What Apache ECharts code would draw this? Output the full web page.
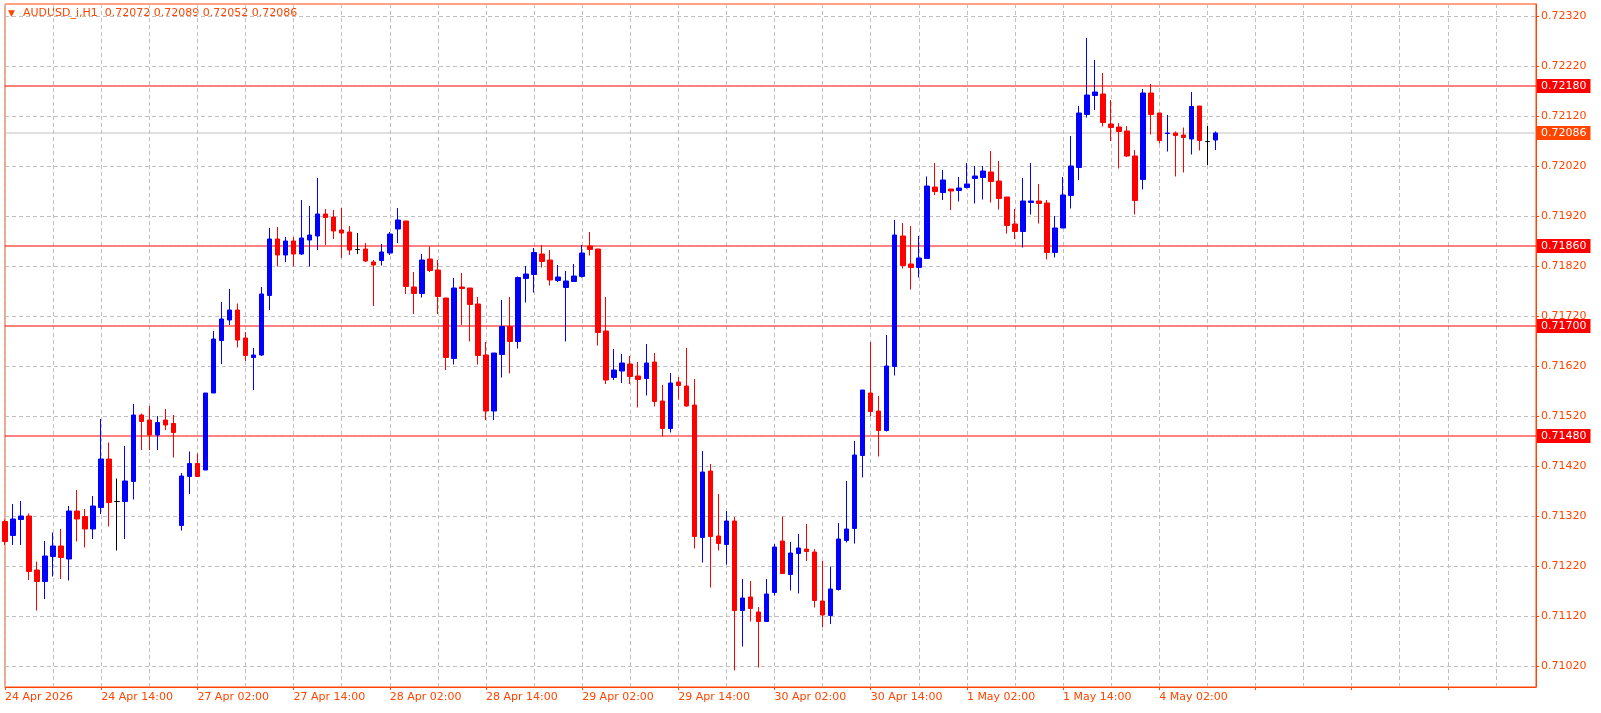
<!DOCTYPE html>
<html><head><meta charset="utf-8">
<script src="https://cdn.jsdelivr.net/npm/echarts@6/dist/echarts.min.js"></script>
<style>html,body{margin:0;padding:0;background:#fff;}#c{width:1601px;height:713px;}</style>
</head><body><div id="c"></div>
<script>
const openP = [.71309,.71281,.71313,.71320,.71212,.71189,.71239,.71260,.71234,.71330,.71319,.71294,.71337,.71434,.71349,.71349,.71389,.71522,.71512,.71482,.71512,.71505,.71301,.71399,.71425,.71412,.71566,.71671,.71712,.71732,.71676,.71637,.71642,.71761,.71874,.71842,.71870,.71844,.71872,.71880,.71924,.71918,.71892,.71888,.71853,.71854,.71828,.71831,.71846,.71894,.71910,.71778,.71765,.71834,.71812,.71756,.71635,.71778,.71776,.71744,.71642,.71530,.71643,.71699,.71669,.71795,.71803,.71844,.71832,.71791,.71777,.71789,.71799,.71860,.71854,.71690,.71597,.71610,.71624,.71600,.71595,.71628,.71550,.71495,.71588,.71580,.71542,.71277,.71410,.71280,.71263,.71310,.71131,.71158,.71128,.71109,.71167,.71270,.71203,.71245,.71254,.71248,.71150,.71121,.71173,.71271,.71295,.71441,.71566,.71530,.71491,.71619,.71880,.71824,.71817,.71835,.71978,.71967,.71974,.71971,.71977,.71995,.71997,.72008,.71990,.71958,.71904,.71889,.71947,.71950,.71946,.71847,.71896,.71961,.72017,.72123,.72161,.72164,.72104,.72098,.72090,.72040,.71993,.72166,.72126,.72085,.72086,.72082,.72074,.72140,.72069,.72072];
const closeP = [.71269,.71314,.71320,.71209,.71189,.71240,.71260,.71237,.71330,.71314,.71294,.71340,.71434,.71347,.71349,.71390,.71522,.71509,.71482,.71507,.71502,.71487,.71400,.71425,.71399,.71566,.71674,.71714,.71732,.71672,.71641,.71642,.71764,.71874,.71842,.71870,.71844,.71876,.71882,.71924,.71917,.71890,.71886,.71852,.71853,.71830,.71822,.71848,.71884,.71912,.71779,.71765,.71832,.71811,.71759,.71637,.71776,.71775,.71743,.71641,.71530,.71646,.71699,.71669,.71797,.71804,.71847,.71829,.71792,.71798,.71790,.71800,.71846,.71853,.71687,.71592,.71612,.71626,.71599,.71593,.71626,.71549,.71495,.71586,.71581,.71540,.71279,.71408,.71279,.71265,.71310,.71131,.71156,.71135,.71109,.71164,.71258,.71205,.71246,.71256,.71249,.71151,.71122,.71174,.71274,.71294,.71442,.71572,.71529,.71491,.71620,.71882,.71821,.71817,.71836,.71980,.71969,.71992,.71970,.71976,.71984,.72000,.72010,.71989,.71955,.71901,.71889,.71950,.71950,.71945,.71847,.71896,.71962,.72020,.72126,.72162,.72168,.72107,.72097,.72089,.72040,.71951,.72166,.72123,.72071,.72086,.72081,.72077,.72139,.72071,.72069,.72086];
const lowP = [.71262,.71262,.71262,.71192,.71131,.71154,.71199,.71194,.71191,.71269,.71257,.71274,.71324,.71299,.71251,.71274,.71353,.71452,.71452,.71452,.71492,.71437,.71291,.71364,.71399,.71412,.71566,.71624,.71702,.71657,.71630,.71572,.71640,.71732,.71819,.71828,.71819,.71842,.71819,.71852,.71862,.71874,.71836,.71842,.71844,.71828,.71740,.71821,.71842,.71866,.71764,.71724,.71757,.71808,.71724,.71612,.71623,.71702,.71669,.71623,.71512,.71512,.71597,.71605,.71655,.71747,.71767,.71817,.71781,.71788,.71669,.71789,.71797,.71841,.71661,.71584,.71592,.71586,.71584,.71537,.71561,.71539,.71479,.71487,.71553,.71539,.71255,.71227,.71177,.71251,.71223,.71011,.71059,.71109,.71017,.71109,.71161,.71205,.71171,.71165,.71230,.71137,.71098,.71104,.71171,.71267,.71265,.71397,.71519,.71439,.71489,.71601,.71815,.71773,.71797,.71835,.71962,.71952,.71932,.71949,.71975,.71945,.71953,.71947,.71933,.71885,.71874,.71857,.71923,.71905,.71833,.71837,.71896,.71935,.71992,.72117,.72132,.72099,.72070,.72015,.72038,.71923,.71973,.72083,.72065,.72049,.71999,.72007,.72043,.72051,.72022,.72052];
const highP = [.71313,.71344,.71350,.71325,.71229,.71270,.71287,.71294,.71340,.71372,.71334,.71360,.71514,.71467,.71395,.71460,.71544,.71525,.71540,.71520,.71534,.71522,.71406,.71449,.71445,.71566,.71690,.71748,.71774,.71745,.71688,.71656,.71778,.71896,.71898,.71878,.71878,.71952,.71940,.71996,.71934,.71932,.71936,.71900,.71886,.71866,.71832,.71864,.71888,.71936,.71910,.71808,.71844,.71859,.71832,.71756,.71796,.71806,.71776,.71758,.71668,.71646,.71752,.71758,.71799,.71820,.71856,.71862,.71852,.71822,.71810,.71824,.71862,.71888,.71854,.71758,.71654,.71644,.71640,.71628,.71664,.71646,.71582,.71606,.71598,.71656,.71594,.71450,.71424,.71364,.71330,.71318,.71194,.71190,.71138,.71194,.71264,.71319,.71268,.71284,.71304,.71254,.71230,.71219,.71306,.71390,.71470,.71572,.71668,.71560,.71682,.71912,.71906,.71900,.71880,.71999,.72026,.72012,.71974,.71998,.72026,.72020,.72020,.72050,.72030,.71958,.71934,.71996,.72026,.71984,.71952,.71920,.71998,.72080,.72140,.72276,.72232,.72206,.72152,.72106,.72100,.72052,.72174,.72184,.72126,.72122,.72089,.72097,.72168,.72140,.72100,.72089];
const timeLabels = ['24 Apr 2026','24 Apr 14:00','27 Apr 02:00','27 Apr 14:00','28 Apr 02:00','28 Apr 14:00','29 Apr 02:00','29 Apr 14:00','30 Apr 02:00','30 Apr 14:00','1 May 02:00','1 May 14:00','4 May 02:00'];
const priceTicks = [0.71020,0.71120,0.71220,0.71320,0.71420,0.71520,0.71620,0.71720,0.71820,0.71920,0.72020,0.72120,0.72220,0.72320];
const levels = [0.72180,0.71860,0.71700,0.71480];
const lastPrice = 0.72086;
const titleText = 'AUDUSD_i,H1  0.72072 0.72089 0.72052 0.72086';

const N = 192;
const cats = [];
for (let i = 0; i < N; i++) cats.push('c' + i);
const candles = openP.map((o, i) => [o, closeP[i], lowP[i], highP[i]]);
const OR = '#ff4500';
const F = 'DejaVu Sans';

function levelSeries(v, lineColor, boxColor, z) {
  return {
    type: 'line', data: cats.map(() => v), symbol: 'none', silent: true, z: z,
    lineStyle: {color: lineColor, width: 1},
    endLabel: {show: true, distance: 1, formatter: v.toFixed(5), color: '#fff', backgroundColor: boxColor,
      padding: [2, 4, 1, 4], fontFamily: F, fontSize: 11}
  };
}

const chart = echarts.init(document.getElementById('c'), null, {renderer: 'canvas'});
chart.setOption({
  animation: false,
  backgroundColor: '#fff',
  grid: {left: 5, right: 65, top: 4, bottom: 26, show: true, borderColor: OR, borderWidth: 1, backgroundColor: 'transparent'},
  xAxis: {
    type: 'category', data: cats, boundaryGap: false,
    axisLine: {show: true, lineStyle: {color: OR}},
    axisTick: {show: true, interval: 11, length: 3, inside: false, lineStyle: {color: OR}},
    axisLabel: {interval: 11, align: 'left', margin: 5, color: OR, fontFamily: F, fontSize: 11,
      formatter: (v, idx) => { const k = idx / 12; return Number.isInteger(k) && timeLabels[k] ? timeLabels[k] : ''; }},
    splitLine: {show: true, interval: 5, lineStyle: {color: '#c0c0c0', type: [4, 3]}}
  },
  yAxis: {
    type: 'value', position: 'right', min: 0.70978, max: 0.72344,
    axisLine: {show: true, lineStyle: {color: OR}},
    axisTick: {show: true, length: 3, customValues: priceTicks, lineStyle: {color: OR}},
    axisLabel: {customValues: priceTicks, color: OR, fontFamily: F, fontSize: 11, margin: 5, formatter: v => v.toFixed(5)},
    splitLine: {show: true, lineStyle: {color: '#c0c0c0', type: [4, 3]}}
  },
  graphic: [
    {type: 'text', left: 8, top: 9, style: {text: '▼', fill: OR, font: '9px ' + F}},
    {type: 'text', left: 23, top: 8, style: {text: titleText, fill: OR, font: '11px ' + F}}
  ],
  series: [{
    type: 'candlestick', data: candles, barWidth: 5, z: 5,
    itemStyle: {color: '#0000ff', color0: '#ff0000', borderColor: '#0000ff', borderColor0: '#ff0000', borderColorDoji: '#000000', borderWidth: 1}
  }]
  .concat(levels.map(v => levelSeries(v, '#ff0000', '#ff0000', 3)))
  .concat([levelSeries(lastPrice, '#c0c0c0', OR, 2)])
});
</script></body></html>
